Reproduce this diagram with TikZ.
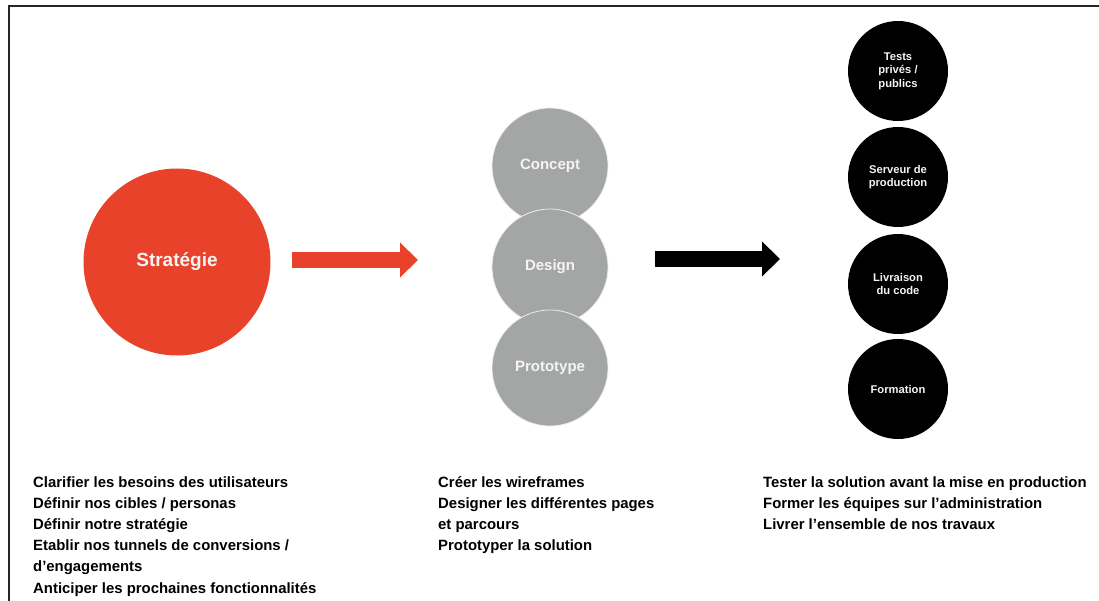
\documentclass[tikz,border=0pt]{standalone}
\usepackage{fontspec}
\setmainfont{Liberation Sans}
\usetikzlibrary{arrows.meta}

\definecolor{stratred}{HTML}{E8432A}
\definecolor{phasegray}{HTML}{A4A6A5}
\definecolor{labelwhite}{HTML}{F4F4F4}

\tikzset{
  stratdisc/.style={circle, fill=stratred, minimum size=187pt, inner sep=0pt,
    text=labelwhite, font=\bfseries\fontsize{19}{22}\selectfont},
  phasedisc/.style={circle, fill=phasegray, draw=white!80!phasegray, line width=0.8pt,
    minimum size=116pt, inner sep=0pt, text=labelwhite, font=\bfseries\fontsize{15}{18}\selectfont},
  deliverdisc/.style={circle, fill=black, minimum size=100pt, inner sep=0pt, align=center,
    text=labelwhite, font=\bfseries\fontsize{11.2}{13.5}\selectfont},
  tasklist/.style={anchor=north west, inner sep=0pt, align=left,
    font=\bfseries\fontsize{14.9}{21.2}\selectfont},
  bigarrow/.style={line width=16pt, -{Triangle[length=18pt,width=34pt]}}
}

\begin{document}
\begin{tikzpicture}[x=1pt,y=-1pt]
\useasboundingbox (0,0) rectangle (1099,601);
% frame edges
\draw[line width=2.2pt, black!85] (9,601) -- (9,6) -- (1099,6);

% phase 1
\node[stratdisc] (strat) at (177,262) {Stratégie};

% phase 2
\node[phasedisc] (concept) at (550,166) {Concept};
\node[phasedisc] (design) at (550,267) {Design};
\node[phasedisc] (proto) at (550,368) {Prototype};

% phase 3
\node[deliverdisc] (tests) at (898,71) {Tests\\privés /\\publics};
\node[deliverdisc] (serveur) at (898,177) {Serveur de\\production};
\node[deliverdisc] (livraison) at (898,284) {Livraison\\du code};
\node[deliverdisc] (formation) at (898,389) {Formation};

% block arrows between the phases
\coordinate (redtail) at (292,260);
\coordinate (redtip) at (418,260);
\coordinate (blacktail) at (655,259);
\coordinate (blacktip) at (780,259);
\draw[bigarrow, stratred] (redtail) -- (redtip);
\draw[bigarrow, black] (blacktail) -- (blacktip);

% task lists
\node[tasklist] (stratlist) at (33,476) {Clarifier les besoins des utilisateurs\\
  Définir nos cibles / personas\\
  Définir notre stratégie\\
  Etablir nos tunnels de conversions /\\
  d’engagements\\
  Anticiper les prochaines fonctionnalités};
\node[tasklist] (designlist) at (438,476) {Créer les wireframes\\
  Designer les différentes pages\\
  et parcours\\
  Prototyper la solution};
\node[tasklist] (deliverlist) at (763,476) {Tester la solution avant la mise en production\\
  Former les équipes sur l'administration\\
  Livrer l'ensemble de nos travaux};
\end{tikzpicture}
\end{document}
